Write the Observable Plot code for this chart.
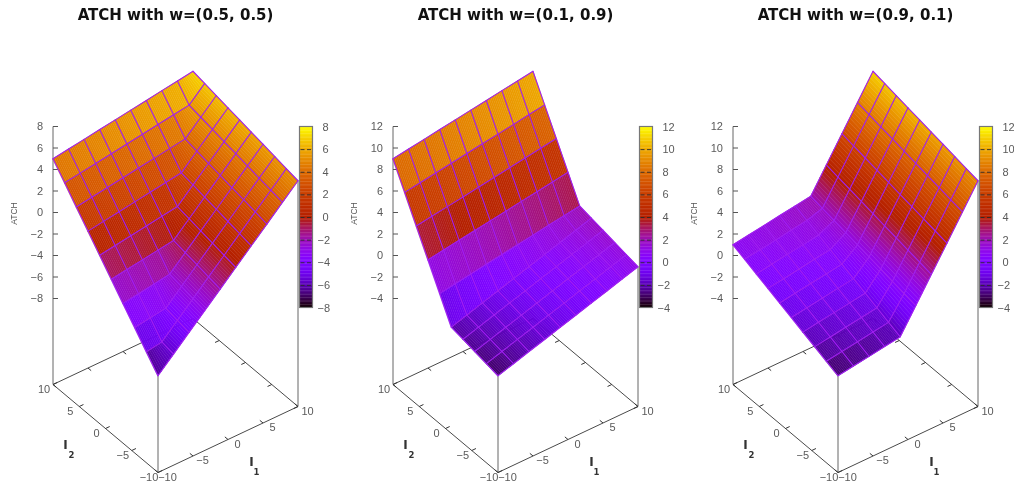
<!DOCTYPE html>
<html><head><meta charset="utf-8">
<script src="https://cdn.jsdelivr.net/npm/d3@7"></script>
<script src="https://cdn.jsdelivr.net/npm/@observablehq/plot@0.6"></script>
<style>
html,body{margin:0;padding:0;background:#fff;overflow:hidden}
#row{display:flex;width:1014px;height:486px}
svg{display:block;filter:blur(0.45px)}
</style></head><body><div id="row"></div>
<script>
const gridI = [-10,-7.78,-5.56,-3.33,-1.11,1.11,3.33,5.56,7.78,10];
const axisTicks = [-10,-5,0,5,10];
const titles = ["ATCH with w=(0.5, 0.5)","ATCH with w=(0.1, 0.9)","ATCH with w=(0.9, 0.1)"];
const zTicksA = [8,6,4,2,0,-2,-4,-6,-8];
const zTicksB = [12,10,8,6,4,2,0,-2,-4];

// rows: I2 ascending, columns: I1 ascending
const surfaceA = [
[-7,-5.67,-4.33,-3,-1.67,-0.33,1,2.33,3.67,5],
[-5.67,-5.44,-4.11,-2.78,-1.44,-0.11,1.22,2.56,3.89,5.22],
[-4.33,-4.11,-3.89,-2.56,-1.22,0.11,1.44,2.78,4.11,5.44],
[-3,-2.78,-2.56,-2.33,-1,0.33,1.67,3,4.33,5.67],
[-1.67,-1.44,-1.22,-1,-0.78,0.56,1.89,3.22,4.56,5.89],
[-0.33,-0.11,0.11,0.33,0.56,0.78,2.11,3.44,4.78,6.11],
[1,1.22,1.44,1.67,1.89,2.11,2.33,3.67,5,6.33],
[2.33,2.56,2.78,3,3.22,3.44,3.67,3.89,5.22,6.56],
[3.67,3.89,4.11,4.33,4.56,4.78,5,5.22,5.44,6.78],
[5,5.22,5.44,5.67,5.89,6.11,6.33,6.56,6.78,7]];
const surfaceB = [
[-3,-2.56,-2.11,-1.67,-1.22,-0.78,-0.33,0.11,0.56,1],
[-2.78,-2.33,-1.89,-1.44,-1,-0.56,-0.11,0.33,0.78,1.22],
[-2.56,-2.11,-1.67,-1.22,-0.78,-0.33,0.11,0.56,1,1.44],
[-2.33,-1.89,-1.44,-1,-0.56,-0.11,0.33,0.78,1.22,1.67],
[-2.11,-1.67,-1.22,-0.78,-0.33,0.11,0.56,1,1.44,1.89],
[0.11,0.33,0.56,0.78,1,1.22,1.44,1.67,1.89,2.11],
[2.33,2.56,2.78,3,3.22,3.44,3.67,3.89,4.11,4.33],
[4.56,4.78,5,5.22,5.44,5.67,5.89,6.11,6.33,6.56],
[6.78,7,7.22,7.44,7.67,7.89,8.11,8.33,8.56,8.78],
[9,9.22,9.44,9.67,9.89,10.11,10.33,10.56,10.78,11]];
const surfaceC = [
[-3,-2.78,-2.56,-2.33,-2.11,0.11,2.33,4.56,6.78,9],
[-2.56,-2.33,-2.11,-1.89,-1.67,0.33,2.56,4.78,7,9.22],
[-2.11,-1.89,-1.67,-1.44,-1.22,0.56,2.78,5,7.22,9.44],
[-1.67,-1.44,-1.22,-1,-0.78,0.78,3,5.22,7.44,9.67],
[-1.22,-1,-0.78,-0.56,-0.33,1,3.22,5.44,7.67,9.89],
[-0.78,-0.56,-0.33,-0.11,0.11,1.22,3.44,5.67,7.89,10.11],
[-0.33,-0.11,0.11,0.33,0.56,1.44,3.67,5.89,8.11,10.33],
[0.11,0.33,0.56,0.78,1,1.67,3.89,6.11,8.33,10.56],
[0.56,0.78,1,1.22,1.44,1.89,4.11,6.33,8.56,10.78],
[1,1.22,1.44,1.67,1.89,2.11,4.33,6.56,8.78,11]];

const palette = t => {
  t = Math.max(0, Math.min(1, t));
  const r = Math.sqrt(t), g = t*t*t, b = Math.max(0, Math.sin(2*Math.PI*t));
  return `rgb(${Math.round(r*255)},${Math.round(g*255)},${Math.round(b*255)})`;
};
const fmt = v => String(v).replace("-", "\u2212");
const tickFont = {fontFamily:"Liberation Sans, sans-serif", fontSize:11, fill:"#5a5a5a"};

function panel(title, surface, zTicks, zBase, width) {
  const zMax = zTicks[0], zMin = zTicks[zTicks.length-1];
  const zk = 172/(zMax-zMin);
  const X = (a,b) => 157.5 + (a+10)/20*140 - (b+10)/20*105;
  const Y = (a,b,z) => 472 - (a+10)/20*66 - (b+10)/20*88 - (z-zBase)*zk;
  const Yb = (a,b) => Y(a,b,zBase);
  const cbY = v => 307.5 - (v-zMin)/(zMax-zMin)*181;

  // pm3d-like strips: each cell is split along I1 only
  const strips = [];
  let id = 0;
  const N = 10;
  for (let j=8;j>=0;j--) for (let i=8;i>=0;i--) {
    const b0=gridI[j], b1=gridI[j+1], a0=gridI[i], a1=gridI[i+1];
    const z00=surface[j][i], z10=surface[j][i+1], z01=surface[j+1][i], z11=surface[j+1][i+1];
    for (let k=N-1;k>=0;k--) {
      const u0=k/N, u1=(k+1)/N;
      const lo=(u)=>z00+(z10-z00)*u, hi=(u)=>z01+(z11-z01)*u;
      const v=(lo(u0)+lo(u1)+hi(u0)+hi(u1))/4;
      const au=(u)=>a0+(a1-a0)*u;
      const pts=[[au(u0),b0,lo(u0)],[au(u1),b0,lo(u1)],[au(u1),b1,hi(u1)],[au(u0),b1,hi(u0)]];
      for (const p of pts) strips.push({sx:X(p[0],p[1]), sy:Y(p[0],p[1],p[2]), v, id});
      id++;
    }
  }
  const wires = [];
  gridI.forEach((b,j)=>gridI.forEach((a,i)=>{
    wires.push({sx:X(a,b), sy:Y(a,b,surface[j][i]), w:"r"+j});
  }));
  gridI.forEach((a,i)=>gridI.forEach((b,j)=>{
    wires.push({sx:X(a,b), sy:Y(a,b,surface[j][i]), w:"c"+i});
  }));

  const seg = (a1,b1,a2,b2)=>({x1:X(a1,b1),y1:Yb(a1,b1),x2:X(a2,b2),y2:Yb(a2,b2)});
  const base = [seg(-10,-10,10,-10),seg(-10,-10,-10,10),seg(10,-10,10,10),seg(-10,10,10,10)];
  const verticals = [
    {x1:X(-10,10),y1:Yb(-10,10),x2:X(-10,10),y2:Y(-10,10,zMax)},
    {x1:X(-10,-10),y1:Yb(-10,-10),x2:X(-10,-10),y2:Y(-10,-10,surface[0][0])},
    {x1:X(10,-10),y1:Yb(10,-10),x2:X(10,-10),y2:Y(10,-10,surface[0][9])}
  ];
  const ticks = [];
  for (const t of axisTicks) {
    ticks.push(seg(t,-10,t,-9.4), seg(t,10,t,9.4), seg(-10,t,-9.4,t), seg(10,t,9.4,t));
  }
  const zTickSegs = zTicks.map(v=>({x1:X(-10,10),x2:X(-10,10)+5,y:Y(-10,10,v)}));
  const i1Labels = axisTicks.map(t=>({x:X(t,-10)+9.5,y:Yb(t,-10)+4.5,t:fmt(t)}));
  const i2Labels = axisTicks.map(t=>({x:X(-10,t)-9,y:Yb(-10,t)+4.5,t:fmt(t)}));
  const zLabels = zTicks.map(v=>({x:42.5,y:Y(-10,10,v),t:fmt(v)}));

  const cbStep = (zMax-zMin)/128;
  const cb = d3.range(zMin, zMax, cbStep).map(v=>({y1:cbY(v),y2:cbY(v+cbStep)-0.3,v:v+cbStep/2}));
  const cbPos = zTicks.filter(v=>v>=0).map(v=>({y:cbY(v),t:fmt(v)}));
  const cbNeg = zTicks.filter(v=>v<0).map(v=>({y:cbY(v),t:fmt(v)}));
  const cbTicks = zTicks.slice(1,-1).map(v=>({y:cbY(v)}));

  return Plot.plot({
    width, height:486, marginTop:0, marginRight:0, marginBottom:0, marginLeft:0,
    x:{domain:[0,width],range:[0,width],axis:null},
    y:{domain:[0,486],range:[0,486],axis:null},
    color:{type:"linear",domain:[zMin,zMax],interpolate:palette,clamp:true},
    style:{background:"#fff"},
    marks:[
      Plot.link(base,{x1:"x1",y1:"y1",x2:"x2",y2:"y2",stroke:"#4a4a4a",strokeWidth:1}),
      Plot.link(verticals,{x1:"x1",y1:"y1",x2:"x2",y2:"y2",stroke:"#666",strokeWidth:1}),
      Plot.link(ticks,{x1:"x1",y1:"y1",x2:"x2",y2:"y2",stroke:"#333",strokeWidth:1}),
      Plot.link(zTickSegs,{x1:"x1",y1:"y",x2:"x2",y2:"y",stroke:"#555",strokeWidth:1}),
      Plot.line(strips,{x:"sx",y:"sy",z:"id",fill:"v",stroke:"v",strokeWidth:0.5,curve:"linear-closed"}),
      Plot.line(wires,{x:"sx",y:"sy",z:"w",stroke:"#a020f0",strokeWidth:1.1}),
      Plot.rect(cb,{x1:300,x2:312,y1:"y1",y2:"y2",fill:"v"}),
      Plot.link(cbTicks,{x1:300,x2:312,y1:"y",y2:"y",stroke:"#2a2a2a",strokeWidth:0.9,strokeDasharray:"4,2.5"}),
      Plot.rect([{}],{x1:299.5,x2:312.5,y1:126.5,y2:307.5,fill:"none",stroke:"#777",strokeWidth:1.2}),
      Plot.text(zLabels,{x:"x",y:"y",text:"t",textAnchor:"end",...tickFont}),
      Plot.text(i1Labels,{x:"x",y:"y",text:"t",...tickFont}),
      Plot.text(i2Labels,{x:"x",y:"y",text:"t",...tickFont}),
      Plot.text(cbPos,{x:322,y:"y",text:"t",textAnchor:"start",...tickFont}),
      Plot.text(cbNeg,{x:317,y:"y",text:"t",textAnchor:"start",...tickFont}),
      Plot.text(["ATCH"],{x:13.5,y:213,rotate:-90,fontFamily:"Liberation Sans, sans-serif",fontSize:8.5,fill:"#555"}),
      Plot.text(["I"],{x:251,y:462,fontFamily:"DejaVu Sans, sans-serif",fontWeight:"bold",fontSize:12,fill:"#333"}),
      Plot.text(["1"],{x:256,y:472,fontFamily:"DejaVu Sans, sans-serif",fontWeight:"bold",fontSize:8.5,fill:"#333"}),
      Plot.text(["I"],{x:65,y:445,fontFamily:"DejaVu Sans, sans-serif",fontWeight:"bold",fontSize:12,fill:"#333"}),
      Plot.text(["2"],{x:71,y:455,fontFamily:"DejaVu Sans, sans-serif",fontWeight:"bold",fontSize:8.5,fill:"#333"}),
      Plot.text([title],{x:175,y:15,fontFamily:"DejaVu Sans, sans-serif",fontWeight:"bold",fontSize:15,fill:"#111"})
    ]
  });
}
const row = document.getElementById("row");
row.append(panel(titles[0],surfaceA,zTicksA,-16,340));
row.append(panel(titles[1],surfaceB,zTicksB,-12,340));
row.append(panel(titles[2],surfaceC,zTicksB,-12,334));
</script></body></html>
